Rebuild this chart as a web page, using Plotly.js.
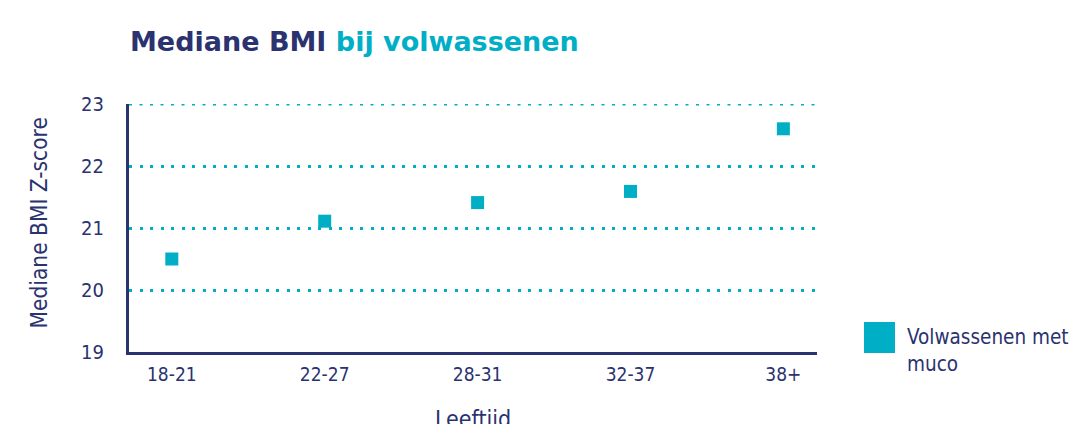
<!DOCTYPE html>
<html>
<head>
<meta charset="utf-8">
<script src="https://cdn.plot.ly/plotly-3.0.1.min.js"></script>
<style>html,body{margin:0;padding:0;background:#fff;}#chart{width:1072px;height:424px;}</style>
</head>
<body>
<div id="chart"></div>
<script>
const categories = ['18-21', '22-27', '28-31', '32-37', '38+'];
const medianBMI = [20.5, 21.11, 21.41, 21.59, 22.6];
const seriesName = 'Volwassenen met<br>muco';
const yTicks = [19, 20, 21, 22, 23];
const xTitle = 'Leeftijd';
const yTitle = 'Mediane BMI Z-score';

const NAVY = '#2a3270';
const TEAL = '#00aec6';
const FONT = '"DejaVu Sans Condensed", "DejaVu Sans", sans-serif';
const TITLE_FONT = '"DejaVu Sans", sans-serif';
const DOTS = '3px,7.5px';

const trace = {
  type: 'scatter',
  mode: 'markers',
  x: categories,
  y: medianBMI,
  name: seriesName,
  marker: {symbol: 'square', size: 13, color: TEAL, line: {width: 0}},
  showlegend: false,
  hoverinfo: 'x+y'
};

const layout = {
  width: 1072,
  height: 424,
  margin: {l: 129, r: 255, t: 104, b: 72},
  paper_bgcolor: '#fff',
  plot_bgcolor: '#fff',
  font: {family: FONT, color: NAVY, size: 20},
  title: {
    text: '<b>Mediane BMI <span style="color:' + TEAL + '">bij volwassenen</span></b>',
    font: {family: TITLE_FONT, size: 27, color: NAVY},
    x: 130 / 1072, xref: 'container', xanchor: 'left',
    y: 1 - 42 / 424, yref: 'container', yanchor: 'middle'
  },
  xaxis: {
    type: 'category',
    range: [-0.28, 4.22],
    showgrid: false,
    zeroline: false,
    showline: true, linecolor: NAVY, linewidth: 3,
    ticks: 'outside', ticklen: 3, tickcolor: 'rgba(0,0,0,0)',
    tickfont: {family: FONT, size: 19, color: NAVY}
  },
  yaxis: {
    range: [19, 23],
    tickvals: yTicks,
    showgrid: true, gridcolor: TEAL, gridwidth: 3, griddash: DOTS,
    zeroline: false,
    showline: true, linecolor: NAVY, linewidth: 3,
    ticks: 'outside', ticklen: 18, tickcolor: 'rgba(0,0,0,0)',
    tickfont: {family: FONT, size: 20, color: NAVY}
  },
  shapes: [{
    type: 'line', xref: 'paper', yref: 'y',
    x0: 0, x1: 1, y0: yTicks[yTicks.length - 1], y1: yTicks[yTicks.length - 1],
    line: {color: TEAL, width: 3, dash: DOTS}, layer: 'below'
  }, {
    type: 'rect', xref: 'paper', yref: 'paper',
    x0: (864 - 129) / 688, x1: (895 - 129) / 688,
    y0: (352 - 353) / 248, y1: (352 - 322) / 248,
    fillcolor: TEAL, line: {width: 0}
  }],
  annotations: [{
    xref: 'paper', yref: 'paper',
    x: (905 - 129) / 688, y: (352 - 350) / 248,
    xanchor: 'left', yanchor: 'middle', align: 'left',
    showarrow: false,
    text: seriesName,
    font: {family: FONT, size: 20.5, color: NAVY}
  }, {
    xref: 'paper', yref: 'paper',
    x: 0.5, y: (352 - 419) / 248,
    xanchor: 'center', yanchor: 'middle',
    showarrow: false,
    text: xTitle,
    font: {family: FONT, size: 23, color: NAVY}
  }, {
    xref: 'paper', yref: 'paper',
    x: (38 - 129) / 688, y: (352 - 222.5) / 248,
    xanchor: 'center', yanchor: 'middle',
    textangle: -90,
    showarrow: false,
    text: yTitle,
    font: {family: FONT, size: 22.5, color: NAVY}
  }]
};

Plotly.newPlot('chart', [trace], layout, {displayModeBar: false, staticPlot: true});
</script>
</body>
</html>
